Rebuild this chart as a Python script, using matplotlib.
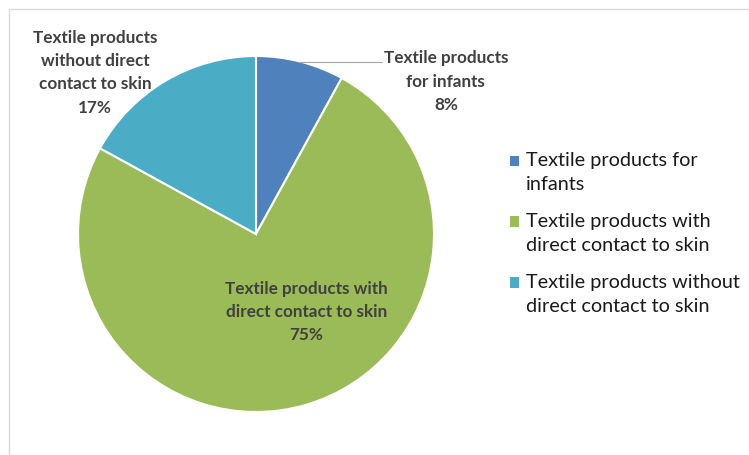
"""Pie chart: textile product categories."""

import matplotlib

matplotlib.use("Agg")

import matplotlib.pyplot as plt
import numpy as np
from matplotlib.legend_handler import HandlerPatch
from matplotlib.patches import Patch, Rectangle

categories = [
    "Textile products for infants",
    "Textile products with direct contact to skin",
    "Textile products without direct contact to skin",
]
legend_labels = [
    "Textile products for\ninfants",
    "Textile products with\ndirect contact to skin",
    "Textile products without\ndirect contact to skin",
]
slice_labels = [
    "Textile products\nfor infants\n8%",
    "Textile products with\ndirect contact to skin\n75%",
    "Textile products\nwithout direct\ncontact to skin\n17%",
]
shares = [8, 75, 17]
colors = ["#4F81BD", "#9BBB59", "#4BACC6"]

plt.rcParams["font.family"] = ["Lato", "DejaVu Sans"]

fig = plt.figure(figsize=(7.49, 4.56), dpi=100)

# light chart-area frame (only top/left visible in the crop)
frame = plt.Rectangle((9 / 749, -0.1), 1.2, 1.0 - 10 / 456 + 0.1,
                      transform=fig.transFigure, fill=False,
                      edgecolor="#d9d9d9", linewidth=1.0)
fig.patches.append(frame)

ax = fig.add_axes([78 / 749, 43 / 456, 356 / 749, 356 / 456])
wedges, _ = ax.pie(
    shares,
    colors=colors,
    startangle=90,
    counterclock=False,
    radius=1.0,
    wedgeprops=dict(edgecolor="white", linewidth=1.5),
)
ax.set_xlim(-1, 1)
ax.set_ylim(-1, 1)
ax.set_aspect("equal")
ax.axis("off")

label_pos = [(1.067, 0.862), (0.284, -0.433), (-0.904, 0.912)]
for (x, y), txt in zip(label_pos, slice_labels):
    ax.text(x, y, txt, ha="center", va="center", fontsize=12.3,
            fontweight="bold", color="#404040", linespacing=1.57)

# leader line for the small slice
w = wedges[0]
mid = np.deg2rad((w.theta1 + w.theta2) / 2)
x0, y0 = np.cos(mid), np.sin(mid)
ax.plot([x0, 0.71], [y0, y0], color="#a6a6a6", linewidth=0.8,
        clip_on=False)


def _top_square(legend, orig_handle, xdescent, ydescent, width, height, fontsize):
    # square marker sits next to the first line of a two-line label
    return Rectangle((-xdescent, -ydescent + 7.5), width, height)


handles = [Patch(facecolor=c, edgecolor="none") for c in colors]
leg = fig.legend(
    handles,
    legend_labels,
    loc="upper left",
    bbox_to_anchor=(492 / 749, 1 - 134 / 456),
    frameon=False,
    fontsize=14.3,
    handlelength=0.45,
    handleheight=0.45,
    handletextpad=0.35,
    labelspacing=1.0,
    labelcolor="#1a1a1a",
    handler_map={Patch: HandlerPatch(patch_func=_top_square)},
)
for t in leg.get_texts():
    t.set_linespacing(1.5)

fig.savefig("out.png", dpi=100)
